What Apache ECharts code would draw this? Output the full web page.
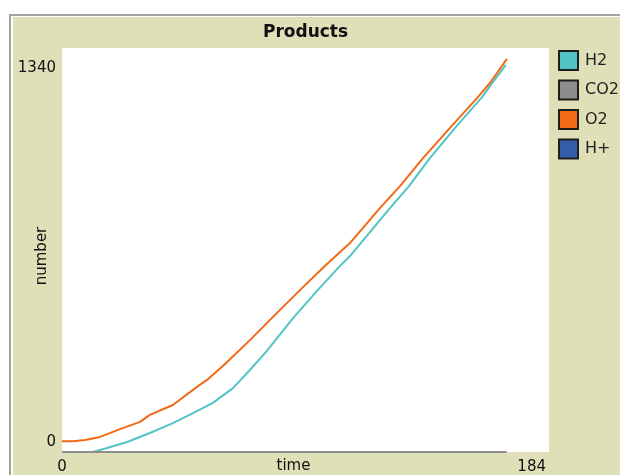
<!DOCTYPE html>
<html>
<head>
<meta charset="utf-8">
<script src="https://cdn.jsdelivr.net/npm/echarts@6/dist/echarts.min.js"></script>
<style>html,body{margin:0;padding:0;background:#fff}#c{width:620px;height:475px}</style>
</head>
<body>
<div id="c"></div>
<script>
// ---- data ----
const seriesNames = ['H2', 'CO2', 'O2', 'H+'];
const timeH2 = [0, 11.7, 17, 24.6, 33.2, 41.9, 49.5, 57, 64.6, 71, 77.1, 87.3, 96, 104.7, 108.8, 123.9, 131.1, 139, 148.5, 158.7, 162.8, 167.7];
const valH2  = [0, 0, 13, 33, 63, 96, 129, 163, 212, 272, 332, 444, 531, 614, 650, 809, 882, 975, 1075, 1177, 1227, 1284];
const timeCO2 = [0, 168];
const valCO2  = [0, 0];
const timeO2 = [0, 4.2, 8.7, 14.4, 21.9, 29.5, 33.2, 41.9, 51, 54.8, 61.6, 71, 80.4, 89.9, 99.3, 108.8, 120.1, 127.7, 136.4, 146.6, 156.8, 161.7, 168.1];
const valO2  = [36, 36, 40, 50, 76, 100, 123, 156, 216, 239, 292, 371, 454, 537, 617, 693, 809, 882, 975, 1075, 1174, 1224, 1304];
const timeHp = [];
const valHp  = [];
const xTicks = [0, 184];
const yTicks = [0, 1340];

const colors = ['rgb(82,196,196)', 'rgb(141,141,141)', 'rgb(241,106,21)', 'rgb(52,93,169)'];
const pairs = (t, v) => t.map((x, i) => [x, v[i]]);
const allData = [pairs(timeH2, valH2), pairs(timeCO2, valCO2), pairs(timeO2, valO2), pairs(timeHp, valHp)];

const font = 'DejaVu Sans';
const chart = echarts.init(document.getElementById('c'), null, {renderer: 'canvas'});
chart.setOption({
  animation: false,
  backgroundColor: '#ffffff',
  color: colors,
  graphic: [
    {type: 'rect', z: -20, silent: true, shape: {x: 10, y: 15, width: 640, height: 480}, style: {fill: 'none', stroke: '#a3a3a3', lineWidth: 2}},
    {type: 'rect', z: -19, silent: true, shape: {x: 13, y: 17, width: 620, height: 470}, style: {fill: '#dfdfb8'}}
  ],
  title: {
    text: 'Products', left: 258, top: 19, padding: 5,
    textStyle: {fontFamily: font, fontWeight: 'bold', fontSize: 17, color: '#111'}
  },
  legend: {
    orient: 'vertical', left: 558, top: 50, padding: 0,
    icon: 'rect', itemWidth: 19, itemHeight: 19, itemGap: 8.5,
    itemStyle: {borderColor: '#1e1e1e', borderWidth: 2},
    textStyle: {fontFamily: font, fontSize: 16, color: '#222', padding: [0, 0, 0, 2]},
    data: seriesNames
  },
  grid: {left: 62, top: 48, right: 71, bottom: 23, containLabel: false, outerBoundsMode: 'none',
    show: true, backgroundColor: '#ffffff', borderWidth: 0},
  xAxis: {
    type: 'value', min: xTicks[0], max: xTicks[1], interval: xTicks[1],
    name: 'time', nameLocation: 'middle', nameGap: 7, nameMoveOverlap: false,
    nameTextStyle: {fontFamily: font, fontSize: 15, color: '#111', padding: [0, 24, 0, 0]},
    axisLine: {show: false}, axisTick: {show: false}, splitLine: {show: false},
    axisLabel: {fontFamily: font, fontSize: 15, color: '#111', margin: 8, alignMaxLabel: 'right',
      formatter: v => v === xTicks[1] ? '{r|' + v + '}' : String(v),
      rich: {r: {fontFamily: font, fontSize: 15, color: '#111', padding: [0, 3, 0, 0]}}}
  },
  yAxis: {
    type: 'value', min: yTicks[0], max: yTicks[1], interval: yTicks[1],
    name: 'number', nameLocation: 'middle', nameGap: 12, nameMoveOverlap: false,
    nameTextStyle: {fontFamily: font, fontSize: 15, color: '#111', padding: [0, 12, 0, 0]},
    axisLine: {show: false}, axisTick: {show: false}, splitLine: {show: false},
    axisLabel: {
      fontFamily: font, fontSize: 15, color: '#111', margin: 6,
      formatter: v => v === yTicks[1] ? '{t|' + v + '}' : '{b|' + v + '}',
      rich: {
        t: {fontFamily: font, fontSize: 15, color: '#111', padding: [41, 0, 0, 0]},
        b: {fontFamily: font, fontSize: 15, color: '#111', padding: [0, 0, 20, 0]}
      }
    }
  },
  series: seriesNames.map((n, i) => ({
    name: n, type: 'line', data: allData[i], showSymbol: false, symbol: 'none',
    clip: false, lineStyle: {width: 2, color: colors[i]}, itemStyle: {color: colors[i]}
  }))
});
</script>
</body>
</html>
